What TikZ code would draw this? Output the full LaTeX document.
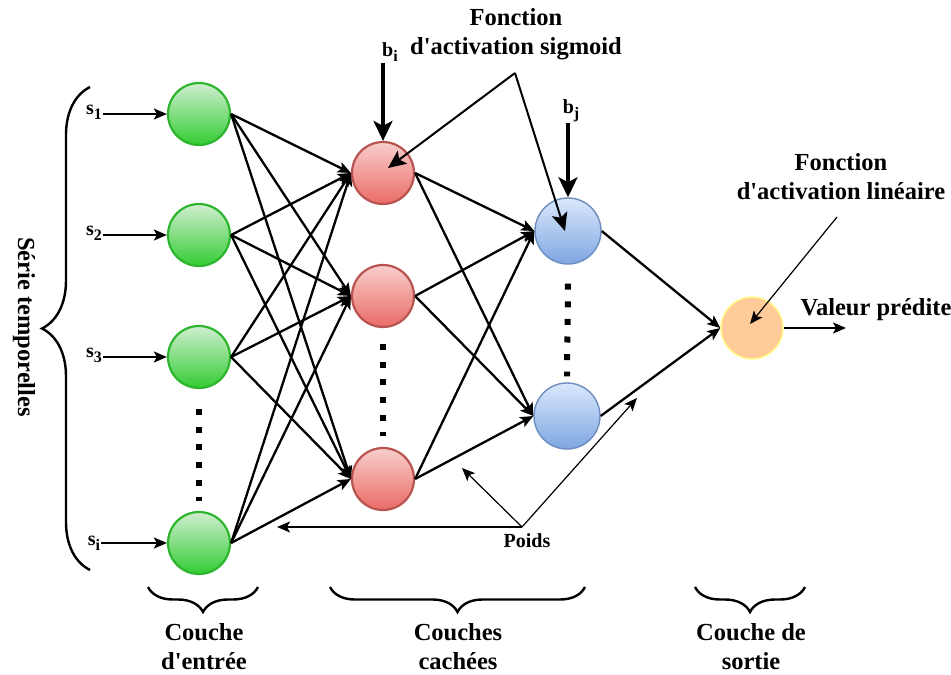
\documentclass[tikz,border=0pt]{standalone}
\usepackage{fontspec}
\setmainfont{Liberation Serif}
\usetikzlibrary{arrows.meta,decorations.pathreplacing}
\definecolor{InGreenTop}{HTML}{D0EED0}
\definecolor{InGreenBot}{HTML}{33CC33}
\definecolor{InGreenLine}{HTML}{2DB52D}
\definecolor{HidRedTop}{HTML}{F8CECC}
\definecolor{HidRedBot}{HTML}{EA6B66}
\definecolor{HidRedLine}{HTML}{B85450}
\definecolor{HidBlueTop}{HTML}{DAE8FC}
\definecolor{HidBlueBot}{HTML}{7EA6E0}
\definecolor{HidBlueLine}{HTML}{6C8EBF}
\definecolor{OutOrange}{HTML}{FFCC99}
\definecolor{OutLine}{HTML}{FFFF88}
\newcommand{\subtxt}[1]{\raisebox{-5pt}{\fontsize{16}{18}\selectfont #1}}
\tikzset{
  neuron/.style={circle, minimum size=62pt, inner sep=0pt},
  innode/.style={neuron, top color=InGreenTop, bottom color=InGreenBot,
                 draw=InGreenLine, line width=2.2pt},
  hidnode/.style={neuron, top color=HidRedTop, bottom color=HidRedBot,
                  draw=HidRedLine, line width=2.2pt},
  hidnodeb/.style={neuron, minimum size=66pt, top color=HidBlueTop,
                   bottom color=HidBlueBot, draw=HidBlueLine, line width=1.4pt},
  outnode/.style={neuron, fill=OutOrange, draw=OutLine, line width=1.4pt},
  lbl/.style={font=\bfseries\fontsize{24.5}{29}\selectfont, align=center, inner sep=0pt},
  small/.style={font=\bfseries\fontsize{20}{24}\selectfont, inner sep=1pt},
  conn/.style={-{Stealth[length=13pt, width=11pt, inset=3pt]}, line width=2.3pt},
  bias/.style={-{Stealth[length=20pt, width=19pt, inset=5pt]}, line width=3.6pt},
  pointer/.style={-{Stealth[length=18pt, width=16pt, inset=4pt]}, line width=2pt},
  thinptr/.style={-{Stealth[length=13pt, width=11pt, inset=3pt]}, line width=1.2pt},
  dots/.style={line width=6pt, dash pattern=on 6pt off 11.6pt},
  curly/.style={decorate, decoration={brace, amplitude=#1}, line width=2.4pt}
}
\begin{document}
\begin{tikzpicture}[x=1pt, y=-1pt]
  \useasboundingbox (0,0) rectangle (951,675);
  % neurons
  \node[innode] (g1) at (199,114) {};
  \node[innode] (g2) at (199,235) {};
  \node[innode] (g3) at (199,357) {};
  \node[innode] (g4) at (199,543) {};
  \node[hidnode] (r1) at (383,173) {};
  \node[hidnode] (r2) at (383,296) {};
  \node[hidnode] (r3) at (383,479) {};
  \node[hidnodeb] (b1) at (568,231) {};
  \node[hidnodeb] (b2) at (567,416) {};
  \node[outnode] (o) at (752,328) {};
  % connections
  \foreach \i in {1,...,4}
    \foreach \j in {1,2,3}
      \draw[conn] (g\i.east) -- (r\j.west);
  \foreach \i in {1,2,3}
    \foreach \j in {1,2}
      \draw[conn] (r\i.east) -- (b\j.west);
  \foreach \j in {1,2}
    \draw[conn] (b\j.east) -- (o.west);
  % dots
  \draw[dots] ([yshift=-20pt]g3.south) -- ([yshift=10pt]g4.north);
  \draw[dots] ([yshift=-16pt]r2.south) -- ([yshift=11pt]r3.north);
  \draw[dots] ([yshift=-19pt]b1.south) -- ([yshift=6pt]b2.north);
  % inputs
  \node[small] (s1) at (94,112) {s\subtxt{1}};
  \node[small] (s2) at (94,233) {s\subtxt{2}};
  \node[small] (s3) at (94,355) {s\subtxt{3}};
  \node[small] (s4) at (94,543) {s\subtxt{i}};
  \foreach \i in {1,...,4}
    \draw[conn] (s\i.east |- g\i) -- (g\i.west);
  % biases
  \node[small] (bi) at (390,52) {b\subtxt{i}};
  \node[small] (bj) at (571,111) {b\subtxt{j}};
  \draw[bias] (r1.north |- bi.south) -- (r1.north);
  \draw[bias] (b1.north |- bj.south) -- (b1.north);
  % activation functions
  \node[lbl] (sig) at (516,34) {Fonction\\d\textquotesingle activation sigmoid};
  \coordinate (sigp) at (515,73);
  \draw[pointer] (sigp) -- ([shift={(5pt,5pt)}]r1.center);
  \draw[pointer] (sigp) -- ([shift={(-3pt,0pt)}]b1.center);
  \node[lbl] (lin) at (841,177) {Fonction\\d\textquotesingle activation linéaire};
  \coordinate (linp) at (837,217);
  \draw[thinptr] (linp) -- ([shift={(-2pt,4pt)}]o.center);
  % output
  \coordinate (outp) at (846,328);
  \draw[conn] (o.east) -- (outp);
  \node[lbl] (val) at (876,310) {Valeur prédite};
  % weights
  \node[small] (poids) at (527,541) {Poids};
  \coordinate (pw) at (522,527);
  \coordinate (pwa) at (277,527);
  \coordinate (pwb) at (462,468);
  \coordinate (pwc) at (637,398);
  \draw[thinptr] (pw) -- (pwa);
  \draw[thinptr] (pw) -- (pwb);
  \draw[thinptr] (pw) -- (pwc);
  % braces
  \draw[curly=48pt] (90,570) -- (90,87);
  \node[lbl, rotate=-90] (serie) at (24,327) {Série temporelles};
  \draw[curly=25pt] (258,587) -- (148,587);
  \draw[curly=25pt] (585,587) -- (330,587);
  \draw[curly=25pt] (805,587) -- (695,587);
  \node[lbl] (cin) at (204,647) {Couche\\d\textquotesingle entrée};
  \node[lbl] (chid) at (458,647) {Couches\\cachées};
  \node[lbl] (cout) at (751,647) {Couche de\\sortie};
\end{tikzpicture}
\end{document}
